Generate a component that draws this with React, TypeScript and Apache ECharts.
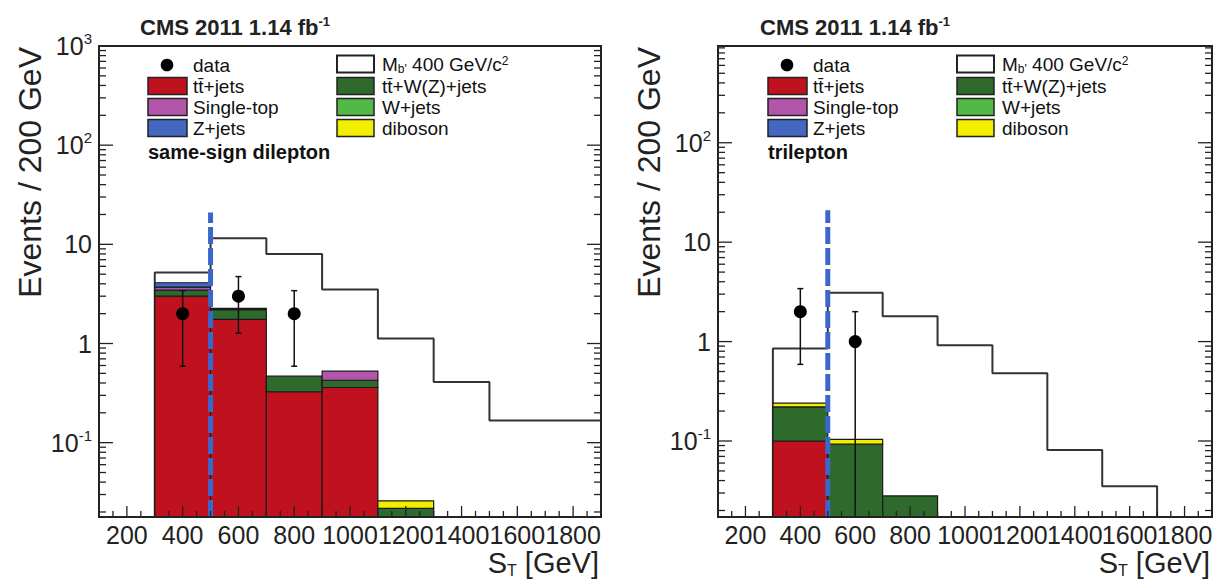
import React, { useEffect, useRef } from 'react';
import * as echarts from 'echarts';

const FONT = '"Liberation Sans", Arial, Helvetica, sans-serif';

// ---------------- data ----------------
const binEdges = [300, 500, 700, 900, 1100, 1300, 1500, 1700, 1900];
const xTickLabels = [200, 400, 600, 800, 1000, 1200, 1400, 1600, 1800];

// same-sign dilepton panel (stack contributions per bin)
const ssTTJets = [3.0, 1.75, 0.326, 0.36, 0, 0, 0, 0];
const ssTTWZ = [0.45, 0.45, 0.142, 0.066, 0.0217, 0, 0, 0];
const ssSingleTop = [0.25, 0, 0, 0.1, 0, 0, 0, 0];
const ssZJets = [0.4, 0.06, 0, 0, 0, 0, 0, 0];
const ssWJets = [0, 0, 0, 0, 0, 0, 0, 0];
const ssDiboson = [0, 0, 0, 0, 0.0042, 0, 0, 0];
const ssSignalTop = [5.2, 11.5, 8.0, 3.5, 1.12, 0.41, 0.167, 0.167];
const ssDataX = [400, 600, 800];
const ssDataY = [2, 3, 2];
const ssDataLo = [0.59, 1.27, 0.59];
const ssDataHi = [3.41, 4.73, 3.41];

// trilepton panel
const triTTJets = [0.1, 0, 0, 0, 0, 0, 0, 0];
const triTTWZ = [0.12, 0.093, 0.028, 0, 0, 0, 0, 0];
const triSingleTop = [0, 0, 0, 0, 0, 0, 0, 0];
const triZJets = [0, 0, 0, 0, 0, 0, 0, 0];
const triWJets = [0, 0, 0, 0, 0, 0, 0, 0];
const triDiboson = [0.02, 0.011, 0, 0, 0, 0, 0, 0];
const triSignalTop = [0.85, 3.1, 1.8, 0.92, 0.48, 0.081, 0.035, 0];
const triDataX = [400, 600];
const triDataY = [2, 1];
const triDataLo = [0.59, 0];
const triDataHi = [3.41, 2.0];

const cutST = 500;
const cutLineTop = 21;

const X_MIN = 100;
const X_MAX = 1900;

const compColors = ['#c0111f', '#2e6a2c', '#b356ab', '#4468c2', '#52b848', '#f2ee00'];

const panels = [
  {
    comps: [ssTTJets, ssTTWZ, ssSingleTop, ssZJets, ssWJets, ssDiboson],
    sig: ssSignalTop, dx: ssDataX, dy: ssDataY, lo: ssDataLo, hi: ssDataHi,
    yMin: 0.0178, yMax: 1000, left: 99, width: 502, label: 'same-sign dilepton', legX: 0,
  },
  {
    comps: [triTTJets, triTTWZ, triSingleTop, triZJets, triWJets, triDiboson],
    sig: triSignalTop, dx: triDataX, dy: triDataY, lo: triDataLo, hi: triDataHi,
    yMin: 0.0172, yMax: 940, left: 718, width: 494, label: 'trilepton', legX: 620,
  },
];

const TOP = 46;
const HEIGHT = 471;

function yLabel(v: number) {
  const l = Math.log10(v);
  const r = Math.round(l);
  if (Math.abs(l - r) > 1e-6) return '';
  if (r === 0) return '{b|1}';
  if (r === 1) return '{b|10}';
  return '{b|10}{s|' + r + '}';
}

function buildOption() {
  const grid: any[] = [];
  const xAxis: any[] = [];
  const yAxis: any[] = [];
  const series: any[] = [];
  const graphic: any[] = [];

  panels.forEach((p, g) => {
    grid.push({ left: p.left, top: TOP, width: p.width, height: HEIGHT, show: false });
    xAxis.push({
      type: 'value', gridIndex: g, min: X_MIN, max: X_MAX, interval: 100,
      axisLine: { show: false }, axisTick: { show: false }, splitLine: { show: false },
      axisLabel: {
        formatter: (v: number) => (xTickLabels.indexOf(v) >= 0 ? String(v) : ''),
        fontSize: 25, fontFamily: FONT, color: '#222', margin: 7, lineHeight: 22,
      },
    });
    yAxis.push({
      type: 'log', logBase: 10, gridIndex: g, min: p.yMin, max: p.yMax,
      axisLine: { show: false }, axisTick: { show: false }, splitLine: { show: false },
      axisLabel: {
        formatter: yLabel, margin: 7, color: '#222', fontFamily: FONT, fontSize: 24,
        rich: {
          b: { fontSize: 25, fontFamily: FONT, color: '#222', lineHeight: 30 },
          s: { fontSize: 15, fontFamily: FONT, color: '#222', lineHeight: 14, verticalAlign: 'top' },
        },
      },
    });

    const yMin = p.yMin;
    const yMax = p.yMax;

    // signal outline (stacked on top of background)
    const sigPts: number[][] = [[binEdges[0], yMin]];
    p.sig.forEach((v, i) => {
      const vv = v > 0 ? v : yMin;
      sigPts.push([binEdges[i], vv]);
      sigPts.push([binEdges[i + 1], vv]);
    });
    series.push({
      type: 'line', xAxisIndex: g, yAxisIndex: g, data: sigPts, symbol: 'none',
      lineStyle: { color: '#333', width: 2 }, z: 2, silent: true,
    });

    // stacked backgrounds
    const cum = binEdges.slice(0, -1).map(() => 0);
    p.comps.forEach((c, ci) => {
      const rows: number[][] = [];
      c.forEach((v, i) => {
        if (v > 0) {
          rows.push([binEdges[i], binEdges[i + 1], Math.max(cum[i], yMin), cum[i] + v]);
          cum[i] += v;
        }
      });
      if (!rows.length) return;
      const color = compColors[ci];
      series.push({
        type: 'custom', xAxisIndex: g, yAxisIndex: g, data: rows, z: 3, silent: true,
        encode: { x: [0, 1], y: [2, 3] },
        renderItem: (params: any, api: any) => {
          const p0 = api.coord([api.value(0), api.value(3)]);
          const p1 = api.coord([api.value(1), api.value(2)]);
          return {
            type: 'rect',
            shape: { x: p0[0], y: p0[1], width: p1[0] - p0[0], height: p1[1] - p0[1] },
            style: { fill: color, stroke: '#1a1a1a', lineWidth: 1.2 },
          };
        },
      });
    });

    // cut line
    series.push({
      type: 'line', xAxisIndex: g, yAxisIndex: g, data: [[cutST, yMin], [cutST, cutLineTop]],
      symbol: 'none', z: 4, silent: true,
      lineStyle: { color: '#3a67c9', width: 5, type: [17, 4] },
    });

    // error bars
    series.push({
      type: 'custom', xAxisIndex: g, yAxisIndex: g, z: 5, silent: true,
      data: p.dx.map((x, i) => [x, Math.max(p.lo[i], yMin), p.hi[i]]),
      encode: { x: 0, y: [1, 2] },
      renderItem: (params: any, api: any) => {
        const x = api.value(0);
        const lo = api.value(1);
        const pLo = api.coord([x, lo]);
        const pHi = api.coord([x, api.value(2)]);
        const st = { stroke: '#111', lineWidth: 1.5 };
        const ch: any[] = [
          { type: 'line', shape: { x1: pLo[0], y1: pLo[1], x2: pHi[0], y2: pHi[1] }, style: st },
          { type: 'line', shape: { x1: pHi[0] - 3, y1: pHi[1], x2: pHi[0] + 3, y2: pHi[1] }, style: st },
        ];
        if (lo > yMin) {
          ch.push({ type: 'line', shape: { x1: pLo[0] - 3, y1: pLo[1], x2: pLo[0] + 3, y2: pLo[1] }, style: st });
        }
        return { type: 'group', children: ch };
      },
    });

    // data points
    series.push({
      type: 'scatter', name: 'data', xAxisIndex: g, yAxisIndex: g, z: 6, silent: true,
      data: p.dx.map((x, i) => [x, p.dy[i]]), symbol: 'circle', symbolSize: 13,
      itemStyle: { color: '#000', opacity: 1 },
    });

    // frame + ticks
    series.push({
      type: 'custom', xAxisIndex: g, yAxisIndex: g, z: 7, silent: true,
      data: [[1000, 1]], encode: { x: 0, y: 1 },
      renderItem: (params: any, api: any) => {
        const ch: any[] = [];
        const tl = api.coord([X_MIN, yMax]);
        const br = api.coord([X_MAX, yMin]);
        const L = tl[0], T = tl[1], R = br[0], B = br[1];
        const st = { stroke: '#222', lineWidth: 1.3 };
        for (let v = X_MIN + 50; v < X_MAX; v += 50) {
          const x = api.coord([v, yMin])[0];
          const len = v % 200 === 0 ? 11 : 6;
          ch.push({ type: 'line', shape: { x1: x, y1: B, x2: x, y2: B - len }, style: st });
        }
        for (let e = -2; e <= 3; e++) {
          for (let m = 1; m <= 9; m++) {
            const v = m * Math.pow(10, e);
            if (v <= yMin || v >= yMax) continue;
            const y = api.coord([X_MIN, v])[1];
            const len = m === 1 ? 14 : 7;
            ch.push({ type: 'line', shape: { x1: L, y1: y, x2: L + len, y2: y }, style: st });
            ch.push({ type: 'line', shape: { x1: R, y1: y, x2: R - len, y2: y }, style: st });
          }
        }
        ch.push({
          type: 'rect', shape: { x: L, y: T, width: R - L, height: B - T },
          style: { fill: 'none', stroke: '#222', lineWidth: 2 },
        });
        return { type: 'group', children: ch };
      },
    });

    // ---- annotations: title, axis titles, legend ----
    const ox = p.legX;
    graphic.push({
      type: 'text', x: 140 + ox, y: 27,
      style: {
        text: '{m|CMS 2011 1.14 fb}{s|-1}', fill: '#222',
        align: 'left', verticalAlign: 'middle', textAlign: 'left', textVerticalAlign: 'middle',
        rich: {
          m: { fontSize: 22, fontWeight: 'bold', fontFamily: FONT, fill: '#222', color: '#222', lineHeight: 24 },
          s: { fontSize: 13, fontWeight: 'bold', fontFamily: FONT, fill: '#222', color: '#222', lineHeight: 14, verticalAlign: 'top' },
        },
      },
    });
    graphic.push({
      type: 'text', x: p.left - 69, y: TOP + 1, rotation: Math.PI / 2,
      style: {
        text: 'Events / 200 GeV', fontSize: 32, fontFamily: FONT, fill: '#222',
        align: 'right', verticalAlign: 'middle', textAlign: 'right', textVerticalAlign: 'middle',
      },
    });
    graphic.push({
      type: 'text', x: p.left + p.width - 2, y: 563,
      style: {
        text: '{n|S}{sub|T}{n| [GeV]}', fill: '#222',
        align: 'right', verticalAlign: 'middle', textAlign: 'right', textVerticalAlign: 'middle',
        rich: {
          n: { fontSize: 29, fontFamily: FONT, fill: '#222', color: '#222', lineHeight: 28 },
          sub: { fontSize: 16, fontFamily: FONT, fill: '#222', color: '#222', lineHeight: 10, verticalAlign: 'top', padding: [13, 0, 0, 0] },
        },
      },
    });

    const rowY = [65, 86, 107, 128];
    const txtStyle = (t: string, x: number, y: number) => ({
      type: 'text', x, y,
      style: {
        text: t, fontSize: 19, fontFamily: FONT, fill: '#111', lineHeight: 19,
        align: 'left', verticalAlign: 'middle', textAlign: 'left', textVerticalAlign: 'middle',
      },
    });
    const box = (x: number, y: number, fill: string, w = 39, lw = 1.5) => ({
      type: 'rect', shape: { x, y: y - 8.5, width: w, height: 17 },
      style: { fill, stroke: '#222', lineWidth: lw },
    });
    // col 1
    graphic.push({ type: 'circle', shape: { cx: 167 + ox, cy: rowY[0], r: 6.3 }, style: { fill: '#000' } });
    graphic.push(txtStyle('data', 193 + ox, rowY[0]));
    graphic.push(box(148 + ox, rowY[1], compColors[0]));
    graphic.push(txtStyle('tt\u0304+jets', 193 + ox, rowY[1]));
    graphic.push(box(148 + ox, rowY[2], compColors[2]));
    graphic.push(txtStyle('Single-top', 193 + ox, rowY[2]));
    graphic.push(box(148 + ox, rowY[3], compColors[3]));
    graphic.push(txtStyle('Z+jets', 193 + ox, rowY[3]));
    // col 2
    graphic.push(box(337 + ox, rowY[0] - 1, '#fff', 37, 2));
    graphic.push({
      type: 'text', x: 382 + ox, y: rowY[0] - 1,
      style: {
        text: "{n|M}{sub|b'}{n| 400 GeV/c}{sup|2}", fill: '#111',
        align: 'left', verticalAlign: 'middle', textAlign: 'left', textVerticalAlign: 'middle',
        rich: {
          n: { fontSize: 19, fontFamily: FONT, fill: '#111', color: '#111', lineHeight: 18 },
          sub: { fontSize: 12, fontFamily: FONT, fill: '#111', color: '#111', lineHeight: 10, verticalAlign: 'top', padding: [8, 0, 0, 0] },
          sup: { fontSize: 12, fontFamily: FONT, fill: '#111', color: '#111', lineHeight: 10, verticalAlign: 'top' },
        },
      },
    });
    graphic.push(box(337 + ox, rowY[1], compColors[1], 37));
    graphic.push(txtStyle('tt\u0304+W(Z)+jets', 382 + ox, rowY[1]));
    graphic.push(box(337 + ox, rowY[2], compColors[4], 37));
    graphic.push(txtStyle('W+jets', 382 + ox, rowY[2]));
    graphic.push(box(337 + ox, rowY[3], compColors[5], 37));
    graphic.push(txtStyle('diboson', 382 + ox, rowY[3]));

    graphic.push({
      type: 'text', x: 148 + ox, y: 152,
      style: {
        text: p.label, fontSize: 20, fontWeight: 'bold', fontFamily: FONT, fill: '#111', lineHeight: 20,
        align: 'left', verticalAlign: 'middle', textAlign: 'left', textVerticalAlign: 'middle',
      },
    });
  });

  return {
    animation: false,
    backgroundColor: '#fff',
    grid, xAxis, yAxis, series, graphic,
  };
}

export default function App() {
  const ref = useRef<HTMLDivElement>(null);
  useEffect(() => {
    if (!ref.current) return;
    const chart = echarts.init(ref.current, undefined, { renderer: 'svg' });
    chart.setOption(buildOption() as any);
    return () => chart.dispose();
  }, []);
  return (
    <div
      ref={ref}
      style={{ position: 'fixed', left: 0, top: 0, width: 1225, height: 580, background: '#fff' }}
    />
  );
}
